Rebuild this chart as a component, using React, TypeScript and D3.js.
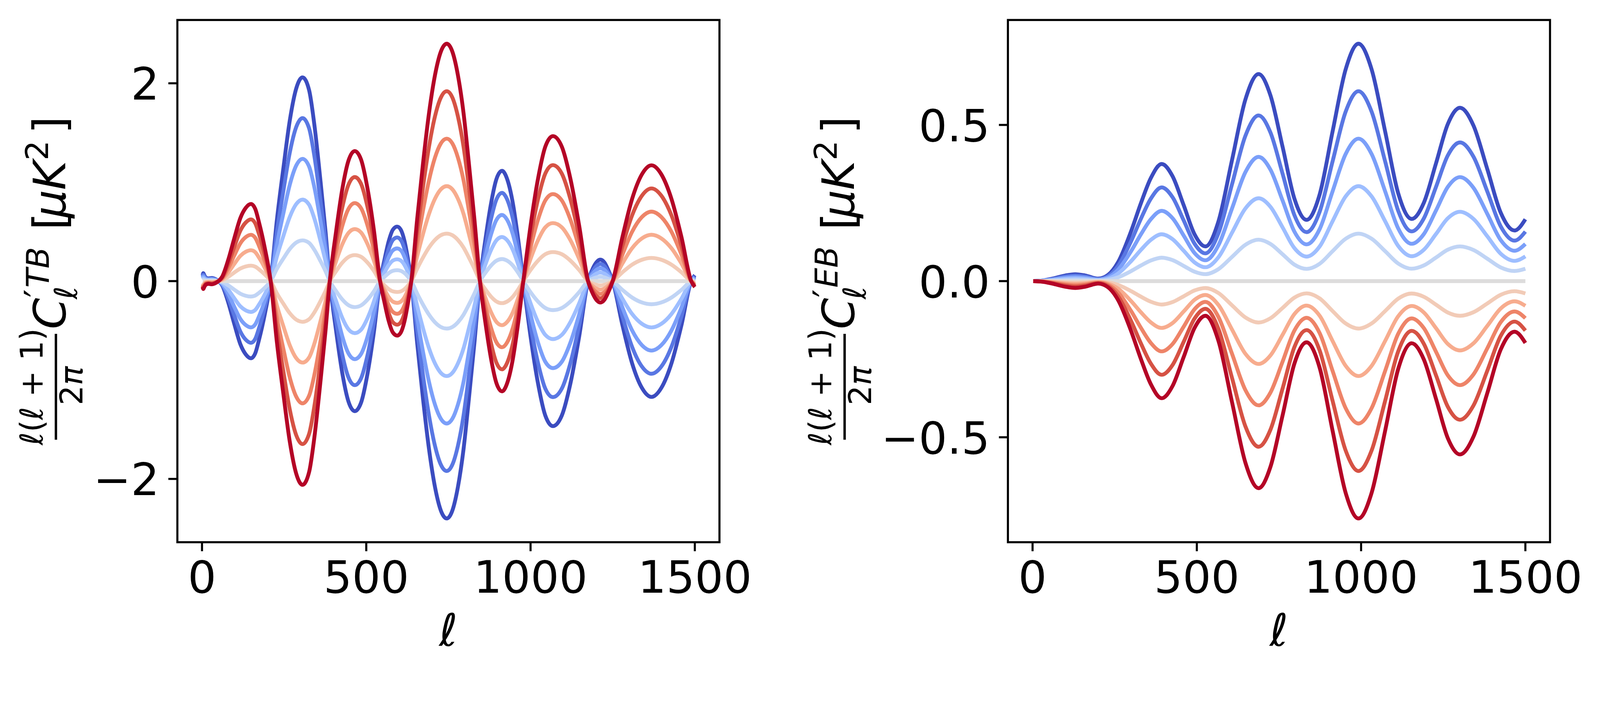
import React from "react";
import * as d3 from "d3";

// matplotlib "coolwarm" sampled at 11 evenly spaced points
const COOLWARM = [
  "#3b4cc0", "#5977e3", "#7b9ff9", "#9ebeff", "#c0d4f5", "#dddcdc",
  "#f2cbb7", "#f7ac8e", "#ee8468", "#d65244", "#b40426",
];

// amplitude of each curve relative to the outermost curve, same order as colours
const TB_SCALE = [-1, -0.8, -0.6, -0.4, -0.2, 0, 0.2, 0.4, 0.6, 0.8, 1];
const EB_SCALE = [1, 0.8, 0.6, 0.4, 0.2, 0, -0.2, -0.4, -0.6, -0.8, -1];

// darkest red TB curve
const TB_ELL = [
  2, 4, 7, 12, 20, 30, 40, 50,
  61, 80, 98, 117, 133, 149, 162, 173, 192, 209,
  228, 248, 267, 287, 306, 326, 342, 361, 376, 389,
  408, 427, 446, 465, 484, 503, 523, 542,
  555, 568, 581, 594, 605, 616, 627, 637,
  655, 673, 691, 709, 727, 745, 762, 779, 796, 812, 829, 846,
  863, 880, 896, 913, 929, 946, 962, 978,
  1000, 1023, 1045, 1068, 1095, 1121, 1148, 1175,
  1187, 1200, 1212, 1225, 1237, 1250,
  1280, 1309, 1339, 1368, 1398, 1429, 1459, 1489, 1500,
];
const TB_RED = [
  -0.06, -0.08, -0.06, -0.035, -0.028, -0.032, -0.022, 0,
  0.042, 0.217, 0.43, 0.64, 0.74, 0.78, 0.73, 0.6, 0.32, 0,
  -0.62, -1.15, -1.62, -1.95, -2.06, -1.93, -1.58, -1.0, -0.5, 0,
  0.5, 0.93, 1.22, 1.315, 1.23, 0.95, 0.52, 0,
  -0.21, -0.4, -0.52, -0.551, -0.52, -0.41, -0.22, 0,
  0.63, 1.2, 1.7, 2.08, 2.32, 2.4, 2.32, 2.08, 1.7, 1.2, 0.63, 0,
  -0.43, -0.79, -1.03, -1.115, -1.03, -0.79, -0.43, 0,
  0.56, 1.04, 1.36, 1.466, 1.36, 1.04, 0.56, 0,
  -0.109, -0.188, -0.217, -0.188, -0.109, 0,
  0.45, 0.83, 1.08, 1.171, 1.08, 0.83, 0.45, 0, -0.06,
];

// darkest blue EB curve
const EB_ELL = [
  2, 30, 60, 100, 130, 160, 200, 230, 260, 300, 330, 360, 393,
  426, 460, 493, 526, 566, 607, 648, 688, 724, 761, 797, 834,
  874, 913, 953, 992, 1032, 1073, 1113, 1154, 1191, 1228, 1264, 1301,
  1342, 1384, 1425, 1467, 1500,
];
const EB_BLUE = [
  0, 0.002, 0.008, 0.018, 0.022, 0.018, 0.008, 0.02, 0.06, 0.16, 0.25, 0.33, 0.375,
  0.336, 0.243, 0.15, 0.111, 0.192, 0.387, 0.582, 0.663, 0.595, 0.43, 0.264, 0.196,
  0.278, 0.478, 0.678, 0.76, 0.678, 0.48, 0.281, 0.199, 0.251, 0.377, 0.503, 0.555,
  0.498, 0.359, 0.219, 0.162, 0.198,
];

const X_TICKS = [0, 500, 1000, 1500];
const TB_TICKS = [-2, 0, 2];
const TB_TICK_LABELS = ["\u22122", "0", "2"];
const EB_TICKS = [-0.5, 0, 0.5];
const EB_TICK_LABELS = ["\u22120.5", "0.0", "0.5"];

const W = 4321;
const H = 1821;
const TOP = 54;
const BOTTOM = 1465;
const AX_W = 1464;
const FS = 121;
const FS_SMALL = 85;
const TICK = 24.3;
const PAD = 24.3;
const FONT = "DejaVu Sans";

interface PanelProps {
  left: number;
  ell: number[];
  ref0: number[];
  scales: number[];
  ticks: number[];
  tickLabels: string[];
}

const Panel: React.FC<PanelProps> = ({ left, ell, ref0, scales, ticks, tickLabels }) => {
  const x = d3.scaleLinear().domain([-75, 1575]).range([left, left + AX_W]);
  const maxAbs = d3.max(ref0, (v) => Math.abs(v)) ?? 1;
  const y = d3
    .scaleLinear()
    .domain([-maxAbs * 1.1, maxAbs * 1.1])
    .range([BOTTOM, TOP]);

  const line = d3
    .line<[number, number]>()
    .x((d) => x(d[0]))
    .y((d) => y(d[1]))
    .curve(d3.curveMonotoneX);

  return (
    <g>
      {scales.map((s, i) => (
        <path
          key={i}
          d={line(ell.map((l, j) => [l, s * ref0[j]] as [number, number])) ?? ""}
          fill="none"
          stroke={COOLWARM[i]}
          strokeWidth={10.4}
          strokeLinejoin="round"
        />
      ))}

      {/* frame */}
      <rect
        x={left}
        y={TOP}
        width={AX_W}
        height={BOTTOM - TOP}
        fill="none"
        stroke="#000"
        strokeWidth={5.6}
      />

      {/* x ticks */}
      {X_TICKS.map((t) => (
        <g key={t}>
          <line x1={x(t)} x2={x(t)} y1={BOTTOM} y2={BOTTOM + TICK} stroke="#000" strokeWidth={5.6} />
          <text
            x={x(t)}
            y={BOTTOM + TICK + PAD + 88}
            textAnchor="middle"
            fontFamily={FONT}
            fontSize={FS}
          >
            {t}
          </text>
        </g>
      ))}

      {/* y ticks */}
      {ticks.map((t, i) => (
        <g key={t}>
          <line x1={left - TICK} x2={left} y1={y(t)} y2={y(t)} stroke="#000" strokeWidth={5.6} />
          <text
            x={left - TICK - PAD}
            y={y(t) + 44}
            textAnchor="end"
            fontFamily={FONT}
            fontSize={FS}
          >
            {tickLabels[i]}
          </text>
        </g>
      ))}

      {/* x label */}
      <text
        x={left + AX_W / 2}
        y={1745}
        textAnchor="middle"
        fontFamily={FONT}
        fontSize={FS}
        fontStyle="italic"
      >
        {"\u2113"}
      </text>
    </g>
  );
};

// rotated mathtext-like label: ℓ(ℓ+1)/2π C_ℓ^{'XY} [μK²]
const YLabel: React.FC<{ baseX: number; sup: string }> = ({ baseX, sup }) => {
  const cy = (TOP + BOTTOM) / 2;
  return (
    <g transform={`translate(${baseX},${cy}) rotate(-90)`} fontFamily={FONT}>
      <text x={-285.5} y={-61} textAnchor="middle" fontSize={FS_SMALL}>
        <tspan fontStyle="italic">{"\u2113"}</tspan>
        (
        <tspan fontStyle="italic">{"\u2113"}</tspan>
        {" + 1)"}
      </text>
      <line x1={-428.5} x2={-142.5} y1={-25} y2={-25} stroke="#000" strokeWidth={6.5} />
      <text x={-283} y={47} textAnchor="middle" fontSize={FS_SMALL}>
        2<tspan fontStyle="italic">{"\u03c0"}</tspan>
      </text>
      <text x={-130} y={0} fontSize={FS} fontStyle="italic">
        C
      </text>
      <text x={-49} y={32} fontSize={FS_SMALL} fontStyle="italic">
        {"\u2113"}
      </text>
      <text x={-44} y={-40} fontSize={FS_SMALL * 1.15}>
        {"\u2032"}
      </text>
      <text x={-18} y={-44} fontSize={FS_SMALL} fontStyle="italic">
        {sup}
      </text>
      <text x={138} y={0} fontSize={FS}>
        [
      </text>
      <text x={170} y={0} fontSize={FS} fontStyle="italic">
        {"\u03bc"}
      </text>
      <text x={246} y={0} fontSize={FS} fontStyle="italic">
        K
      </text>
      <text x={326} y={-46} fontSize={FS_SMALL}>
        2
      </text>
      <text x={398} y={0} fontSize={FS}>
        ]
      </text>
    </g>
  );
};

export default function App() {
  return (
    <svg
      viewBox={`0 0 ${W} ${H}`}
      preserveAspectRatio="xMinYMin meet"
      style={{
        position: "fixed",
        left: 0,
        top: 0,
        width: "100vw",
        height: "100vh",
        background: "#fff",
      }}
    >
      <rect width={W} height={H} fill="#fff" />
      <Panel
        left={479}
        ell={TB_ELL}
        ref0={TB_RED}
        scales={TB_SCALE}
        ticks={TB_TICKS}
        tickLabels={TB_TICK_LABELS}
      />
      <Panel
        left={2722}
        ell={EB_ELL}
        ref0={EB_BLUE}
        scales={EB_SCALE}
        ticks={EB_TICKS}
        tickLabels={EB_TICK_LABELS}
      />
      <YLabel baseX={176} sup="TB" />
      <YLabel baseX={2306} sup="EB" />
    </svg>
  );
}
